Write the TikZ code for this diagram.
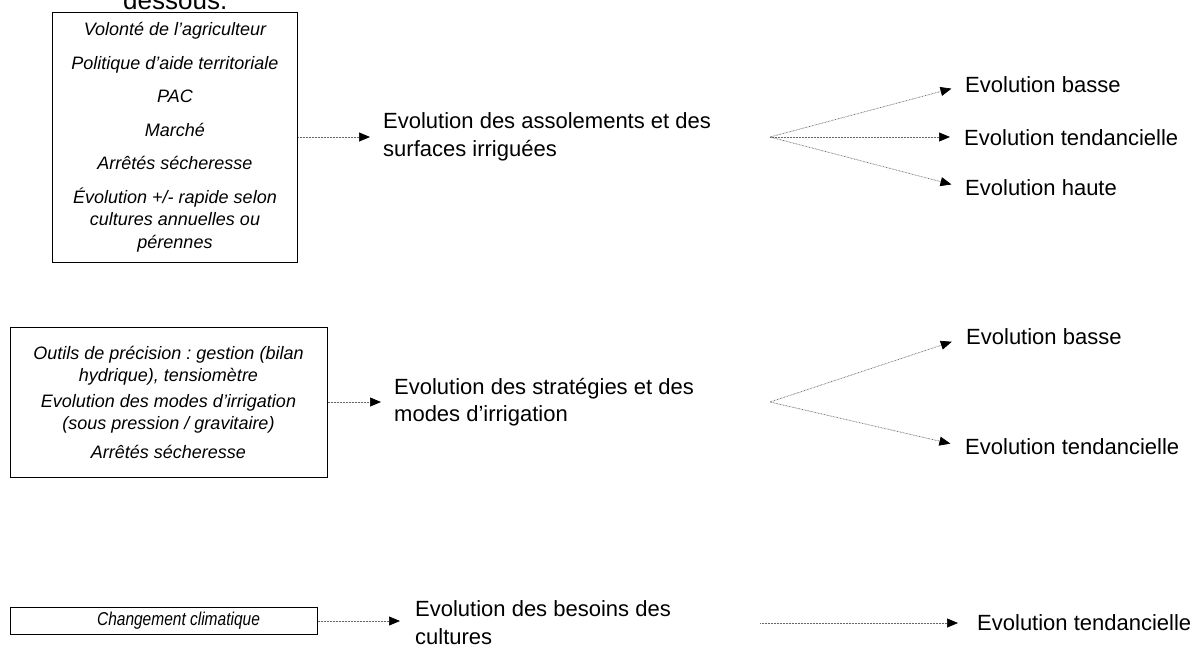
\documentclass[tikz,border=0pt]{standalone}
\usepackage{fontspec}
\usepackage{graphicx}
\setmainfont{Liberation Sans}
\usetikzlibrary{arrows.meta}
\frenchspacing
\begin{document}
\begin{tikzpicture}[x=1pt,y=-1pt,
  conn/.style={draw=black!60, line width=0.7pt, dash pattern=on 0.7pt off 0.8pt,
    -{Triangle[length=11pt,width=9pt,color=black]}, shorten >=13pt},
  factbox/.style={draw=black, line width=1pt, inner sep=0pt, align=center,
    font=\fontsize{18}{22.5}\selectfont\itshape},
  maintext/.style={anchor=west, inner sep=0pt, align=left,
    font=\fontsize{22}{27.5}\selectfont},
  lab/.style={anchor=west, inner sep=0pt, font=\fontsize{22}{27}\selectfont}]
\useasboundingbox (0,0) rectangle (1191,648);
\clip (0,0) rectangle (1191,648);

% cut-off text at top
\node[anchor=base west, inner sep=0pt, font=\fontsize{26}{30}\selectfont] (d) at (123,9.5) {dessous.};

% ---- row 1
\node[factbox, minimum width=245pt, minimum height=250pt] (b1) at (175,137)
  {Volonté de l’agriculteur\\[11pt]Politique d’aide territoriale\\[11pt]PAC\\[11pt]Marché\\[11pt]Arrêtés sécheresse\\[11pt]Évolution +/- rapide selon\\cultures annuelles ou\\pérennes};
\node[maintext] (t1) at (383,137) {Evolution des assolements et des\\surfaces irriguées};
\draw[conn] (b1.east) -- (t1.west);

\coordinate (f1) at (770,137);
\node[lab] (l11) at (965,85) {Evolution basse};
\node[lab] (l12) at (964,138) {Evolution tendancielle};
\node[lab] (l13) at (965,188) {Evolution haute};
\draw[conn, shorten >=14pt] (f1) -- (l11.west);
\draw[conn, shorten >=14pt] (f1) -- (f1 -| l12.west);
\draw[conn, shorten >=14pt] (f1) -- (l13.west);

% ---- row 2
\node[factbox, font=\fontsize{18}{22}\selectfont\itshape, minimum width=317pt, minimum height=150pt] (b2) at (168.5,402)
  {Outils de précision : gestion (bilan\\hydrique), tensiomètre\\[4pt]Evolution des modes d’irrigation\\(sous pression / gravitaire)\\[7pt]Arrêtés sécheresse};
\node[maintext] (t2) at (394,402) {Evolution des stratégies et des\\modes d’irrigation};
\draw[conn] (b2.east) -- (t2.west);

\coordinate (f2) at (770,402);
\node[lab] (l21) at (966,337) {Evolution basse};
\node[lab] (l22) at (965,447) {Evolution tendancielle};
\draw[conn, shorten >=15pt] (f2) -- (l21.west);
\draw[conn, shorten >=15pt] (f2) -- (l22.west);

% ---- row 3
\node[factbox, font=\fontsize{15.5}{19}\selectfont\itshape, minimum width=307pt, minimum height=27pt] (b3) at (163.5,621)
  {\hspace*{30pt}\scalebox{1}[1.2]{Changement climatique}};
\node[maintext, font=\fontsize{22}{28}\selectfont] (t3) at (415,623) {Evolution des besoins des\\cultures};
\draw[conn, shorten >=15pt] (b3.east) -- (b3.east -| t3.west);

\coordinate (c3) at (760,623);
\node[lab] (l31) at (977,623) {Evolution tendancielle};
\draw[conn, shorten >=19pt] (c3) -- (l31.west);
\end{tikzpicture}
\end{document}
